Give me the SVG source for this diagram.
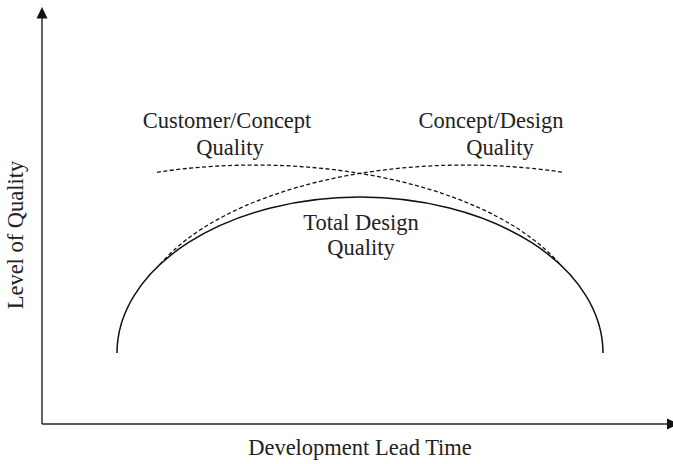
<svg xmlns="http://www.w3.org/2000/svg" width="673" height="464" viewBox="0 0 673 464">
<style>
  .axis { stroke: #222; stroke-width: 1.4; fill: none; }
  .solid { stroke: #111; stroke-width: 1.5; fill: none; }
  .dash { stroke: #111; stroke-width: 1.3; fill: none; stroke-dasharray: 4 2.5; }
  .lbl { font-family: "Liberation Serif", "Times New Roman", serif; font-size: 22.5px; fill: #222; }
  .head { fill: #111; }
</style>
<rect width="673" height="464" fill="#fff"/>
<g id="connectors">
  <line class="axis" x1="42" y1="424" x2="42" y2="17"/>
  <polygon class="head" points="42,7 47.5,18.5 36.5,18.5"/>
  <line class="axis" x1="42" y1="424" x2="668" y2="424"/>
  <polygon class="head" points="679,424 667,418.5 667,429.5"/>
</g>
<g id="total-design-quality">
  <path class="solid" d="M117,353 A243,156 0 0 1 603,353"/>
  <text class="lbl" x="361" y="230" text-anchor="middle">Total Design</text>
  <text class="lbl" x="361" y="255" text-anchor="middle">Quality</text>
</g>
<g id="customer-concept-quality">
  <path class="dash" d="M157,172.3 A330,161 0 0 1 560,264.5"/>
  <text class="lbl" x="227" y="128" text-anchor="middle">Customer/Concept</text>
  <text class="lbl" x="230" y="155" text-anchor="middle">Quality</text>
</g>
<g id="concept-design-quality">
  <path class="dash" d="M160,264.5 A330,161 0 0 1 563,172.3"/>
  <text class="lbl" x="491" y="128" text-anchor="middle">Concept/Design</text>
  <text class="lbl" x="500" y="155" text-anchor="middle">Quality</text>
</g>
<g id="y-label">
  <text class="lbl" transform="translate(23,235) rotate(-90)" text-anchor="middle">Level of Quality</text>
</g>
<g id="x-label">
  <text class="lbl" x="360" y="455" text-anchor="middle">Development Lead Time</text>
</g>
</svg>
